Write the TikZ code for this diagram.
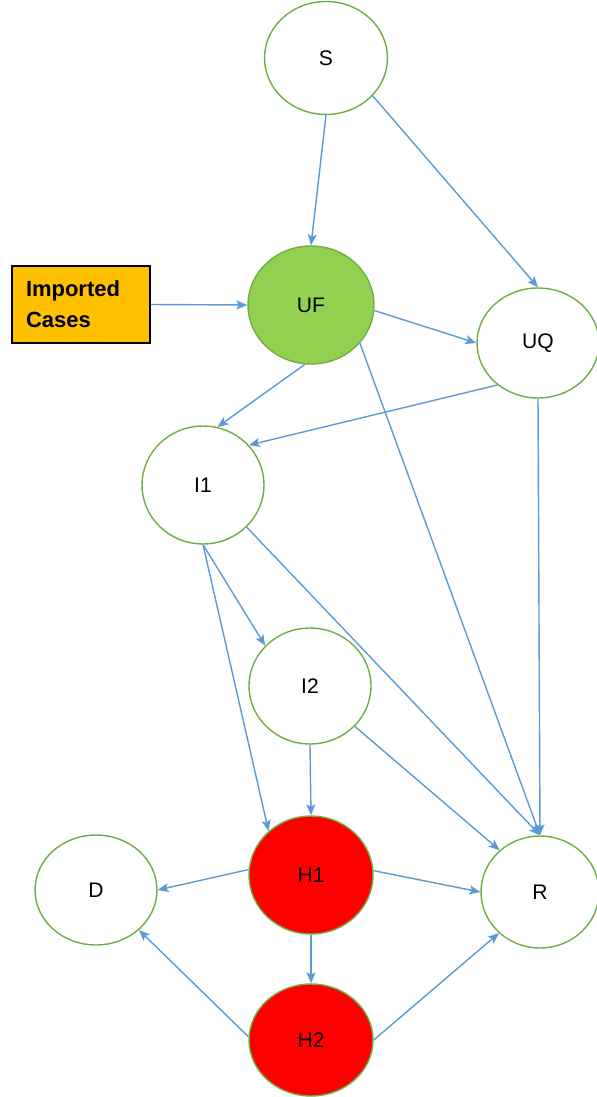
\documentclass[tikz,border=0pt]{standalone}
\usepackage{fontspec}
\setmainfont{Liberation Sans}
\usepackage{xcolor}
\usetikzlibrary{shapes.geometric,arrows.meta}

\definecolor{rimgreen}{HTML}{70AD47}
\definecolor{ufgreen}{HTML}{92D050}
\definecolor{hospred}{HTML}{FF0000}
\definecolor{importorange}{HTML}{FFC000}
\definecolor{flowblue}{HTML}{5B9BD5}

\begin{document}
\begin{tikzpicture}[
            x=0.02cm, y=-0.02cm,
            comp/.style={draw=rimgreen, line width=0.8pt, ellipse, fill=white, minimum width=2.46cm, minimum height=2.26cm, font=\fontsize{12}{14}\selectfont},
            flow/.style={draw=flowblue, line width=0.8pt, -{Stealth[length=2.2mm,width=1.8mm,inset=0.5mm]}},
            importbox/.style={draw, line width=0.8pt, rectangle, fill=importorange, minimum width=2.76cm, minimum height=1.54cm, text width=2.2cm, align=left, font=\fontsize{12.5}{17.5}\selectfont\bfseries}
            ]
            \useasboundingbox (0,0) rectangle (597,1097);

            % Nodes with manual coordinates
            \node[comp] (S) at (326,58) {S};
            \node[comp, fill=ufgreen, minimum height=2.36cm, minimum width=2.52cm] (UF) at (311,305) {UF};
            \node[comp, minimum height=2.2cm, minimum width=2.44cm] (UQ) at (538,343) {UQ};
            \node[importbox] (imp) at (81,304.5) {Imported\\Cases};
            \node[comp, minimum height=2.36cm, minimum width=2.44cm] (I1) at (203,485) {I1};
            \node[comp, minimum height=2.32cm, minimum width=2.44cm] (I2) at (310,686) {I2};
            \node[comp, fill=hospred, minimum height=2.36cm, minimum width=2.48cm] (H1) at (311,875) {H1};
            \node[comp, minimum height=2.2cm, minimum width=2.44cm] (D) at (96,890) {D};
            \node[comp, minimum height=2.24cm, minimum width=2.36cm] (R) at (540,892) {R};
            \node[comp, fill=hospred, minimum height=2.24cm, minimum width=2.48cm] (H2) at (311,1040) {H2};

            % Arrows
            \draw[flow] (S.south) -- (UF.north);
            \draw[flow] (S.-39) -- (UQ.north);
            \draw[flow] (imp.east) -- (UF.west);
            \draw[flow] (UF.-5) -- (UQ.west);
            \draw[flow] (UF.-96) -- (I1.76);
            \draw[flow] (UF.-38) -- (R.north);
            \draw[flow] (UQ.-134) -- (I1.41);
            \draw[flow] (UQ.south) -- (R.north);
            \draw[flow] (I1.south) -- (I2.138);
            \draw[flow] (I1.south) -- (H1.134);
            \draw[flow] (I1.-44) -- (R.north);
            \draw[flow] (I2.south) -- (H1.north);
            \draw[flow] (I2.-42) -- (R.134);
            \draw[flow] (H1.4) -- (R.west);
            \draw[flow] (H1.175) -- (D.east);
            \draw[flow] (H1.south) -- (H2.north);
            \draw[flow] (H2.177) -- (D.-43);
            \draw[flow] (H2.east) -- (R.-135);
        \end{tikzpicture}
\end{document}
